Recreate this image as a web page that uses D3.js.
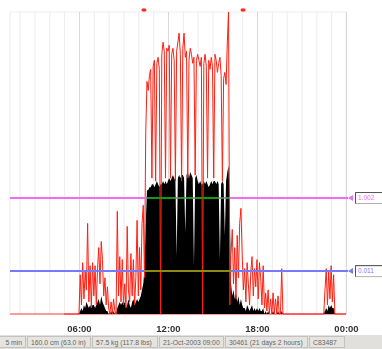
<!DOCTYPE html>
<html>
<head>
<meta charset="utf-8">
<script src="https://cdn.jsdelivr.net/npm/d3@7/dist/d3.min.js"></script>
<style>
  body { margin: 0; background: #fff; }
  svg { display: block; font-family: "Liberation Sans", Arial, sans-serif; filter: blur(0.3px); }
</style>
</head>
<body>
<div class="chart"></div>
<script>
// 5 minute epochs, first one at 05:00, last one at 24:00 (nothing recorded before)
const startHour = 5;
const epochMinutes = 5;

// black trace (activity), % of scale
const activity = [
  0, 0, 0, 0, 0, 0, 0, 0, 0, 0, 0, 0,              // 05
  0, 1, 2, 1, 3, 2, 4, 3, 2, 3, 2, 3,              // 06
  3, 2, 3, 4, 5, 3, 6, 4, 3, 2, 1, 1,              // 07
  0, 0, 1, 0, 1, 0, 0, 2, 3, 4, 3, 4,              // 08
  3, 4, 2, 3, 5, 3, 2, 4, 5, 3, 4, 5,              // 09
  4, 5, 6, 8, 10, 15, 30, 41, 41, 42, 42, 43,      // 10
  43, 42, 43, 44, 43, 42, 43, 43, 44, 43, 44, 43,  // 11
  44, 45, 44, 45, 46, 45, 44, 19, 45, 46, 45, 46,  // 12
  46, 45, 27, 46, 47, 45, 47, 46, 45, 16, 45, 46,  // 13
  44, 43, 44, 43, 43, 44, 43, 44, 43, 42, 43, 44,  // 14
  43, 44, 44, 43, 44, 43, 18, 43, 44, 43, 26, 44,  // 15
  47, 49, 35, 10, 6, 8, 5, 7, 4, 6, 3, 5,          // 16
  3, 2, 2, 1, 3, 2, 1, 2, 3, 1, 2, 1,              // 17
  2, 1, 2, 1, 1, 2, 0, 1, 0, 1, 0, 0,              // 18
  0, 1, 0, 0, 0, 1, 0, 0, 1, 0, 0, 0,              // 19
  0, 0, 0, 0, 0, 0, 0, 0, 0, 0, 0, 0,              // 20
  0, 0, 0, 0, 0, 0, 0, 0, 0, 0, 0, 0,              // 21
  0, 0, 0, 0, 0, 0, 0, 1, 2, 1, 3, 2,              // 22
  3, 2, 2, 0, 0, 0, 0, 0, 0, 0, 0, 0,              // 23
  0                                                // 24
];

// red trace (light), % of scale
const light = [
  0, 0, 0, 0, 0, 0, 0, 0, 0, 0, 0, 0,              // 05
  0, 13, 3, 17, 5, 14, 8, 30, 4, 16, 2, 17,        // 06
  6, 16, 3, 15, 22, 10, 24, 18, 6, 12, 3, 9,       // 07
  2, 0, 4, 0, 5, 1, 0, 34, 6, 19, 4, 18,           // 08
  3, 10, 2, 29, 8, 4, 20, 6, 18, 3, 12, 31,        // 09
  6, 22, 8, 30, 36, 12, 60, 77, 74, 79, 81, 45,    // 10
  82, 84, 44, 83, 85, 81, 0, 86, 90, 87, 45, 88,   // 11
  87, 89, 45, 86, 88, 84, 44, 87, 90, 93, 86, 44,  // 12
  88, 93, 85, 87, 45, 84, 88, 86, 83, 85, 46, 84,  // 13
  86, 84, 82, 85, 0, 83, 86, 82, 45, 84, 81, 85,   // 14
  82, 45, 86, 84, 80, 83, 85, 79, 44, 78, 80, 76,  // 15
  90, 100, 3, 20, 28, 10, 22, 5, 26, 12, 30, 35,   // 16
  20, 8, 15, 4, 17, 10, 3, 14, 19, 6, 15, 9,       // 17
  18, 5, 17, 12, 3, 16, 2, 7, 1, 8, 0, 5,          // 18
  0, 7, 0, 5, 0, 6, 0, 0, 15, 0, 0, 0,             // 19
  0, 0, 0, 0, 0, 0, 0, 0, 0, 0, 0, 0,              // 20
  0, 0, 0, 0, 0, 0, 0, 0, 0, 0, 0, 0,              // 21
  0, 0, 0, 0, 0, 0, 0, 8, 15, 3, 14, 5,            // 22
  16, 4, 13, 0, 0, 0, 0, 0, 0, 0, 0, 0,            // 23
  0                                                // 24
];

const tickHours = [6, 12, 18, 24];
const tickLabels = ["06:00", "12:00", "18:00", "00:00"];
const thresholdValues = [38.4, 14.2];
const thresholdLabels = ["1.002", "0.011"];
const markerHours = [10.38, 17.06];
const statusTexts = ["5 min", "160.0 cm (63.0 in)", "57.5 kg (117.8 lbs)",
  "21-Oct-2003 09:00", "30461 (21 days 2 hours)", "C83487"];

let width = 382, height = 349;
let svg = d3.select("div.chart").append("svg")
  .attr("width", width)
  .attr("height", height);

let x = d3.scaleLinear().domain([1.35, 24]).range([10, 346]);
let y = d3.scaleLinear().domain([0, 100]).range([314, 12]);

let hourOf = i => startHour + i * epochMinutes / 60;

let defs = svg.append("defs");
defs.append("clipPath").attr("id", "plot")
  .append("rect").attr("x", 10).attr("y", 0).attr("width", 336).attr("height", 315);

// frame + hourly grid
svg.append("rect")
  .attr("x", 10).attr("y", 12).attr("width", 336).attr("height", 302)
  .attr("fill", "none").attr("stroke", "#ededed");
svg.append("g").selectAll("line")
  .data(d3.range(2, 25))
  .enter().append("line")
  .attr("x1", d => x(d) + 0.5).attr("x2", d => x(d) + 0.5)
  .attr("y1", 12).attr("y2", 314)
  .attr("stroke", d => d % 6 == 0 ? "#d9d9d9" : "#ececec");

let g = svg.append("g").attr("clip-path", "url(#plot)");

// zero line of the red trace over the whole day
g.append("line")
  .attr("x1", x.range()[0]).attr("x2", x.range()[1])
  .attr("y1", y(0)).attr("y2", y(0))
  .attr("stroke", "#ff4040");

let area = d3.area()
  .x((d, i) => x(hourOf(i)))
  .y0(y(0))
  .y1(d => y(d));
g.append("path")
  .attr("d", area(activity))
  .attr("fill", "#000");

defs.append("clipPath").attr("id", "blackArea")
  .append("path").attr("d", area(activity));

let line = d3.line()
  .x((d, i) => x(hourOf(i)))
  .y(d => y(d));
g.append("path")
  .attr("d", line(light))
  .attr("fill", "none")
  .attr("stroke", "#ff1e10")
  .attr("stroke-width", 1);

// threshold lines, xor-like: other colour where they cross the black trace
let lineColors = ["#f26cf2", "#7878ff"];
let overColors = ["#119911", "#8c8a10"];
thresholdValues.forEach((v, k) => {
  let yy = y(v);
  svg.append("line")
    .attr("x1", 10).attr("x2", 348).attr("y1", yy).attr("y2", yy)
    .attr("stroke", lineColors[k]).attr("stroke-width", 2);
  svg.append("line")
    .attr("x1", 10).attr("x2", 346).attr("y1", yy).attr("y2", yy)
    .attr("stroke", overColors[k]).attr("stroke-width", 2)
    .attr("clip-path", "url(#blackArea)");
  svg.append("path")
    .attr("d", `M348,${yy} L353,${yy - 3} L353,${yy + 3} Z`)
    .attr("fill", lineColors[k]);
  svg.append("rect")
    .attr("x", 355.5).attr("y", yy - 5.5).attr("width", 30).attr("height", 11)
    .attr("fill", "#fff").attr("stroke", "#b0b0b0");
  svg.append("path")
    .attr("d", `M355.5,${yy + 5.5} V${yy - 5.5} H382`)
    .attr("fill", "none").attr("stroke", "#555");
  svg.append("text")
    .attr("x", 358).attr("y", yy + 2.3)
    .attr("font-size", 6.5)
    .attr("fill", lineColors[k])
    .text(thresholdLabels[k]);
});

// event markers on the top edge
svg.append("g").selectAll("ellipse")
  .data(markerHours)
  .enter().append("ellipse")
  .attr("cx", d => x(d)).attr("cy", 10)
  .attr("rx", 2.6).attr("ry", 1.8)
  .attr("fill", "#ff2a20");

// time axis
let xAxis = d3.axisBottom(x)
  .tickValues(tickHours)
  .tickSize(0)
  .tickFormat((d, i) => tickLabels[i]);
let ax = svg.append("g")
  .attr("transform", "translate(0,322)")
  .call(xAxis);
ax.select(".domain").remove();
ax.selectAll("text")
  .attr("font-family", "Liberation Sans, Arial, sans-serif")
  .attr("font-size", 9.5)
  .attr("font-weight", "bold")
  .attr("fill", "#333");

// status bar
let bar = svg.append("g").attr("transform", "translate(0,335)");
bar.append("rect").attr("x", 0).attr("y", 0).attr("width", width).attr("height", 14)
  .attr("fill", "#e2e0dc");
let panelEdges = [-20, 27, 92, 159, 225, 309, 346];
for (let k = 0; k < statusTexts.length; k++) {
  let x0 = panelEdges[k], x1 = panelEdges[k + 1] - 2;
  bar.append("rect")
    .attr("x", x0 + 0.5).attr("y", 1.5).attr("width", x1 - x0).attr("height", 11)
    .attr("fill", "#e6e4e0").attr("stroke", "#c4c2be");
  bar.append("text")
    .attr("x", k == 0 ? x1 - 3 : x0 + 4)
    .attr("y", 9.5)
    .attr("text-anchor", k == 0 ? "end" : "start")
    .attr("font-size", 6.8)
    .attr("fill", "#666")
    .text(statusTexts[k]);
}
</script>
</body>
</html>
